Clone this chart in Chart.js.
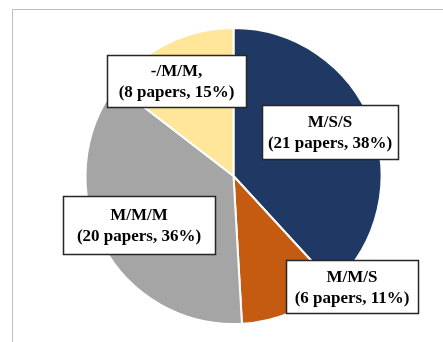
<!DOCTYPE html>
<html>
<head>
<meta charset="utf-8">
<script src="https://cdn.jsdelivr.net/npm/chart.js@4.4.1/dist/chart.umd.min.js"></script>
<style>
  html, body { margin: 0; padding: 0; background: #ffffff; }
  #wrap { width: 443px; height: 342px; position: relative; }
</style>
</head>
<body>
<div id="wrap"><canvas id="pie-chart" width="443" height="342"></canvas></div>
<script>
// Data
const categories = ["M/S/S", "M/M/S", "M/M/M", "-/M/M,"];
const paperCounts = [21, 6, 20, 8];
const percentLabels = ["38%", "11%", "36%", "15%"];
const sliceColors = ["#203864", "#C55A11", "#A5A5A5", "#FFE699"];

// Label box layout: centre offset from pie centre (px) and box size
const labelBoxes = [
    { dx: 96.5, dy: -44, w: 136, h: 54 },
    { dx: 118.5, dy: 110.5, w: 132, h: 53 },
    { dx: -94.5, dy: 49, w: 152, h: 58 },
    { dx: -57, dy: -95, w: 139, h: 52 }
];

// Light gray frame round the chart (it runs off the right and bottom edges)
const framePlugin = {
    id: 'frame',
    beforeDraw(chart) {
        const ctx = chart.ctx;
        ctx.save();
        ctx.strokeStyle = '#BFBFBF';
        ctx.lineWidth = 1;
        ctx.beginPath();
        ctx.moveTo(12.5, chart.height + 2);
        ctx.lineTo(12.5, 9.5);
        ctx.lineTo(chart.width + 2, 9.5);
        ctx.stroke();
        ctx.restore();
    }
};

// Boxed labels drawn on top of the slices
const boxLabelPlugin = {
    id: 'boxLabels',
    afterDatasetsDraw(chart) {
        const ctx = chart.ctx;
        const arcs = chart.getDatasetMeta(0).data;
        ctx.save();
        ctx.font = 'bold 17px "Liberation Serif", "Times New Roman", serif';
        ctx.textAlign = 'center';
        ctx.textBaseline = 'middle';
        arcs.forEach((arc, i) => {
            const box = labelBoxes[i];
            const cx = arc.x + box.dx;
            const cy = arc.y + box.dy;
            const left = Math.round(cx - box.w / 2) + 0.5;
            const top = Math.round(cy - box.h / 2) + 0.5;
            ctx.fillStyle = '#ffffff';
            ctx.fillRect(left, top, box.w, box.h);
            ctx.strokeStyle = '#262626';
            ctx.lineWidth = 1.5;
            ctx.strokeRect(left, top, box.w, box.h);
            ctx.fillStyle = '#000000';
            ctx.fillText(categories[i], cx, cy - 9);
            ctx.fillText(`(${paperCounts[i]} papers, ${percentLabels[i]})`, cx, cy + 12);
        });
        ctx.restore();
    }
};

const ctxPie = document.getElementById('pie-chart').getContext('2d');
const pieChart = new Chart(ctxPie, {
    type: 'pie',
    data: {
        labels: categories,
        datasets: [{
            data: paperCounts,
            backgroundColor: sliceColors,
            borderColor: '#ffffff',
            borderWidth: 2
        }]
    },
    options: {
        responsive: false,
        animation: false,
        layout: {
            padding: { top: 27, bottom: 17, left: 84, right: 60 }
        },
        plugins: {
            legend: { display: false },
            tooltip: { enabled: false }
        }
    },
    plugins: [framePlugin, boxLabelPlugin]
});
</script>
</body>
</html>
